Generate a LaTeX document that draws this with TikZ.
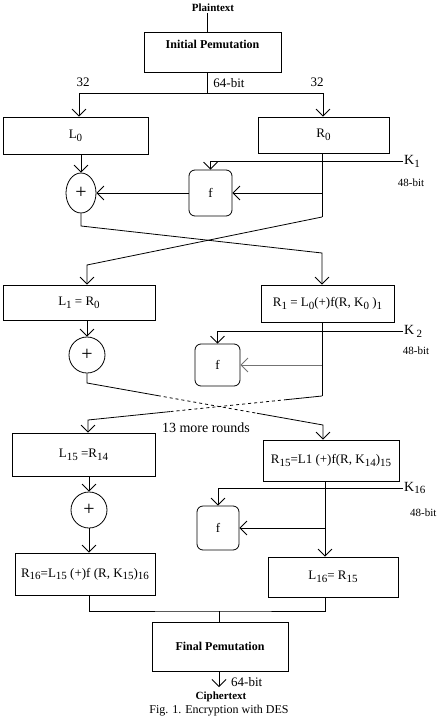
\documentclass[tikz,border=0pt]{standalone}
\usepackage{fontspec}
\setmainfont{Liberation Serif}
\usepackage{tikz}
\usetikzlibrary{arrows.meta,calc,shapes.geometric}
\definecolor{feedline}{gray}{0.45}
\newcommand{\dsub}[1]{\raisebox{-0.45ex}{\fontsize{11}{13}\selectfont #1}}

\tikzset{
	block/.style={draw, line width=0.8pt, inner sep=1pt, font=\fontsize{13}{15}\selectfont},
	fbox/.style={block, rounded corners=6pt},
	xorsign/.style={draw, ellipse, line width=0.8pt, inner sep=0pt, minimum width=36pt, minimum height=36pt, font=\fontsize{20}{20}\selectfont},
	lbl/.style={inner sep=1pt, font=\fontsize{13}{15}\selectfont},
	bitlbl/.style={lbl, font=\fontsize{11}{13}\selectfont},
	keylbl/.style={lbl, anchor=west, font=\fontsize{14}{16}\selectfont},
	wire/.style={line width=0.8pt},
	sig/.style={line width=0.8pt, -{Straight Barb[length=7pt,width=14pt]}}
}

\begin{document}
\begin{tikzpicture}[x=1pt,y=-1pt]
	\useasboundingbox (0,0) rectangle (438,718);
	
	\coordinate (spl) at (207,93);
	\node[lbl, font=\bfseries\fontsize{11}{13}\selectfont] (plain) at (213,8) {Plaintext};
	\node[block, minimum width=137pt, text height=15pt, text depth=23pt, font=\bfseries\fontsize{12}{14}\selectfont] (ip) at (212.5,52) {Initial Pemutation};
	\draw[wire] (plain.south -| spl) -- (ip.north -| spl);
	
	\coordinate (sl) at (79,93);
	\coordinate (sr) at (323,93);
	\draw[wire] (ip.south -| spl) -- (spl);
	\draw[wire] (sl) -- (sr);
	\node[lbl] (w32l) at (83,82) {32};
	\node[lbl] (w64) at (229,83) {64-bit};
	\node[lbl] (w32r) at (317,82) {32};
	
	\node[block, minimum width=145pt, minimum height=37pt] (L0) at (75.5,135.5) {L\dsub{0}};
	\node[block, minimum width=131pt, minimum height=36pt] (R0) at (323.5,135) {R\dsub{0}};
	\draw[sig] (sl) -- (sl |- L0.north);
	\draw[sig] (sr) -- (sr |- R0.north);
	
	% round 1
	\node[xorsign, minimum width=30pt, minimum height=40pt] (x1) at (81,193) {+};
	\node[fbox, minimum width=43pt, minimum height=46pt] (f1) at (210.5,193) {f};
	\node[keylbl] (k1) at (403,161) {K\dsub{1}};
	\node[bitlbl] (b1) at (411,183) {48-bit};
	\coordinate (r0b) at (322,217);
	\draw[wire] (R0.south -| r0b) -- (r0b);
	\draw[sig] (k1.west) -| (f1.north);
	\draw[sig] (L0.south -| x1) -- (x1.north);
	\draw[sig] (f1.east -| r0b) -- (f1.east);
	\draw[sig] (f1.west) -- (x1.east);
	
	\node[block, minimum width=152pt, minimum height=35pt] (L1) at (79,302.5) {L\dsub{1} = R\dsub{0}};
	\node[block, minimum width=133pt, minimum height=37pt] (R1) at (327.5,303.5) {R\dsub{1} = L\dsub{0}(+)f(R, K\dsub{0} )\dsub{1}};
	\coordinate (c1l) at (81,226);
	\coordinate (c1r) at (322,253);
	\coordinate (c2l) at (87,265);
	\draw[sig] (x1.south) -- (c1l) -- (c1r) -- (c1r |- R1.north);
	\draw[sig] (r0b) -- (c2l) -- (c2l |- L1.north);
	
	% round 2
	\node[xorsign] (x2) at (87,355) {+};
	\node[fbox, minimum width=45pt, minimum height=42pt] (f2) at (217.5,365) {f};
	\node[keylbl] (k2) at (403,331) {K\,\dsub{2}};
	\node[bitlbl] (b2) at (416,351) {48-bit};
	\coordinate (r1b) at (322,396);
	\draw[wire] (R1.south -| r1b) -- (r1b);
	\draw[sig] (L1.south -| x2) -- (x2.north);
	\draw[sig] (k2.west) -| (f2.north);
	\draw[sig, feedline] (f2.east -| r1b) -- (f2.east);
	
	% 13 more rounds
	\coordinate (d1a) at (87,383);
	\coordinate (d1b) at (323,425);
	\coordinate (d2b) at (88,420);
	\draw[wire] (x2.south) -- (d1a) -- ($(d1a)!0.3!(d1b)$);
	\draw[wire, dashed] ($(d1a)!0.3!(d1b)$) -- ($(d1a)!0.72!(d1b)$);
	\draw[wire] (r1b) -- ($(r1b)!0.15!(d2b)$);
	\draw[wire, dashed] ($(r1b)!0.15!(d2b)$) -- ($(r1b)!0.65!(d2b)$);
	\node[lbl, font=\fontsize{14}{16}\selectfont] (more) at (206,428) {13 more rounds};
	
	\node[block, minimum width=143pt, minimum height=43pt] (L15) at (83.5,454.5) {L\dsub{15} =R\dsub{14}};
	\node[block, minimum width=136pt, minimum height=41pt] (R15) at (331,460.5) {R\dsub{15}=L1 (+)f(R, K\dsub{14})\dsub{15}};
	\draw[sig] ($(d1a)!0.72!(d1b)$) -- (d1b) -- (d1b |- R15.north);
	\draw[sig] ($(r1b)!0.65!(d2b)$) -- (d2b) -- (d2b |- L15.north);
	
	% round 16
	\node[xorsign] (x3) at (89,510) {+};
	\node[fbox, minimum width=42pt, minimum height=44pt] (f3) at (218,528) {f};
	\node[keylbl] (k16) at (403,488) {K\dsub{16}};
	\node[bitlbl, anchor=west] (b16) at (409,513) {48-bit};
	\node[block, minimum width=140pt, minimum height=42pt] (R16) at (85,574) {R\dsub{16}=L\dsub{15} (+)f (R, K\dsub{15})\dsub{16}};
	\node[block, minimum width=130pt, minimum height=40pt] (L16) at (333,577) {L\dsub{16}= R\dsub{15}};
	\coordinate (r15b) at (325,528);
	\draw[sig] (L15.south -| x3) -- (x3.north);
	\draw[sig] (x3.south) -- (x3.south |- R16.north);
	\draw[sig] (R15.south -| r15b) -- (r15b |- L16.north);
	\draw[sig] (k16.west) -| (f3.north);
	\draw[sig] (r15b) -- (f3.east);
	
	% output
	\coordinate (mg) at (219,611);
	\node[block, minimum width=136pt, minimum height=49pt, font=\bfseries\fontsize{12}{14}\selectfont] (fp) at (220,646.5) {Final Pemutation};
	\draw[wire] (R16.south -| x3) |- (mg) -| (L16.south -| r15b);
	\draw[wire] (mg) -- (mg |- fp.north);
	\coordinate (out) at (219,687);
	\draw[sig] (fp.south -| out) -- (out);
	\node[lbl, anchor=west] (w64b) at (230,682) {64-bit};
	\node[lbl, font=\bfseries\fontsize{11}{13}\selectfont] (ct) at (221,697) {Ciphertext};
	\node[lbl, font=\fontsize{12}{14}\selectfont] (cap) at (219,710.5) {Fig. 1. Encryption with DES};
\end{tikzpicture}
\end{document}
